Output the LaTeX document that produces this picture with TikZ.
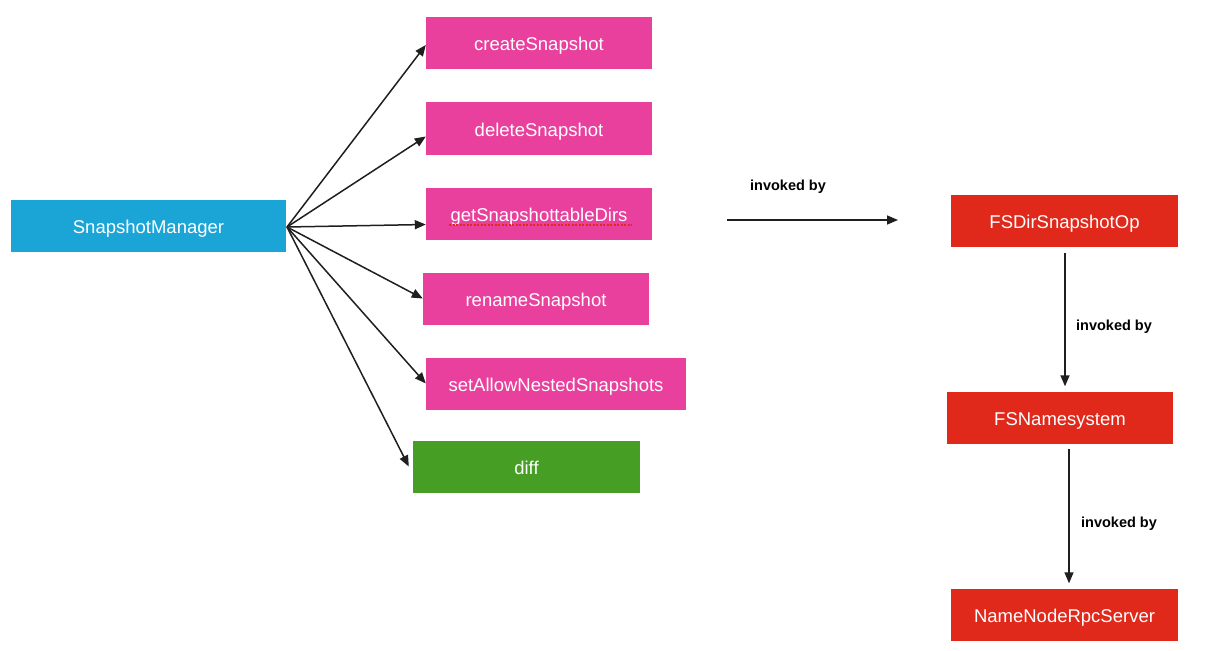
\documentclass[tikz,border=0pt]{standalone}
\usepackage{fontspec}
\setmainfont{Liberation Sans}
\usepackage{tikz}
\usetikzlibrary{arrows.meta}

\definecolor{mgrblue}{HTML}{1BA5D7}
\definecolor{oppink}{HTML}{E8409C}
\definecolor{diffgreen}{HTML}{469E25}
\definecolor{callred}{HTML}{E0281B}

\tikzset{
  box/.style={minimum height=52pt,inner sep=0pt,text=white,
    text height=15.5pt,text depth=0pt,
    font=\fontsize{18.5}{22}\selectfont},
  call/.style={-{Triangle[length=11pt,width=9pt]},line width=1.5pt,draw=black!88},
  lbl/.style={font=\fontsize{14.5}{17}\selectfont\bfseries}
}

\begin{document}
\begin{tikzpicture}[x=1pt,y=-1pt]
\useasboundingbox (0,0) rectangle (1222,650);

% Manager
\node[box,fill=mgrblue,minimum width=275pt] (mgr) at (148.5,225.5){SnapshotManager};

% Snapshot operations
\node[box,fill=oppink,minimum width=226pt] (create) at (539,43){createSnapshot};
\node[box,fill=oppink,minimum width=226pt] (delete) at (539,128.5){deleteSnapshot};
\node[box,fill=oppink,minimum width=226pt] (getdirs) at (539,213.5){getSnapshottableDirs};
\node[box,fill=oppink,minimum width=226pt] (rename) at (536,298.5){renameSnapshot};
\node[box,fill=oppink,minimum width=260pt] (nested) at (556,383.5){setAllowNestedSnapshots};
\node[box,fill=diffgreen,minimum width=227pt] (diff) at (526.5,466.5){diff};

% spell check underline
\draw[callred,dash pattern=on 2pt off 1.5pt,line width=1.8pt] (449,225)--(632,225);

% Fan out from manager
\coordinate (hub) at (287,227);
\draw[call] (hub)--([yshift=-2pt]create.west);
\draw[call] (hub)--([yshift=-8pt]delete.west);
\draw[call] (hub)--([yshift=-11pt]getdirs.west);
\draw[call] (hub)--(rename.west);
\draw[call] (hub)--(nested.west);
\draw[call] (hub)--([xshift=-4pt]diff.west);

% Callers
\node[box,fill=callred,minimum width=227pt] (dirop) at (1064.5,220.5){FSDirSnapshotOp};
\node[box,fill=callred,minimum width=226pt] (fsn) at (1060,417.5){FSNamesystem};
\node[box,fill=callred,minimum width=227pt] (rpc) at (1064.5,614.5){NameNodeRpcServer};

\coordinate (from) at (727,220);
\coordinate (to) at (898,220);
\draw[call] (from)--(to);
\node[lbl] (lbl1) at (788,187){invoked by};

\draw[call] ([xshift=0.5pt,yshift=-6pt]dirop.south)--([xshift=5pt,yshift=5pt]fsn.north);
\node[lbl] (lbl2) at (1114,327){invoked by};

\draw[call] ([xshift=9pt,yshift=-5pt]fsn.south)--([xshift=4.5pt,yshift=5pt]rpc.north);
\node[lbl] (lbl3) at (1119,524){invoked by};

\end{tikzpicture}
\end{document}
